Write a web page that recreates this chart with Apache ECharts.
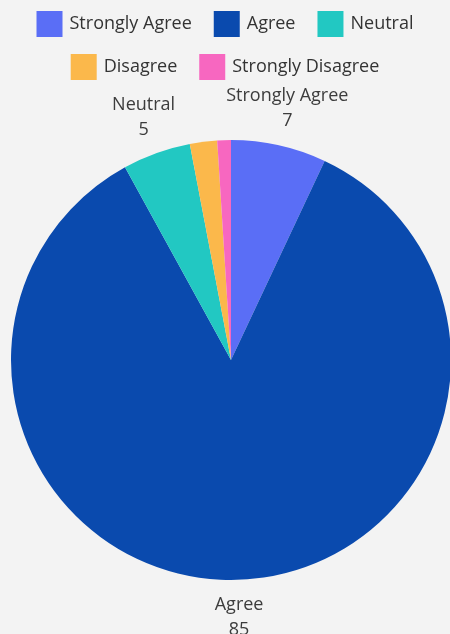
<!DOCTYPE html>
<html>
<head>
<meta charset="utf-8">
<script src="https://cdn.jsdelivr.net/npm/echarts@6/dist/echarts.min.js"></script>
<style>
html,body{margin:0;padding:0;background:#f3f3f3;}
#chart{width:450px;height:634px;}
</style>
</head>
<body>
<div id="chart"></div>
<script>
const categories = ['Strongly Agree', 'Agree', 'Neutral', 'Disagree', 'Strongly Disagree'];
const values = [7, 85, 5, 2, 1];
const colors = ['#5a6ef6', '#0a4aae', '#22c8c2', '#fbb84b', '#f767c0'];
const showLabel = [true, true, true, false, false];
const legendRow1 = ['Strongly Agree', 'Agree', 'Neutral'];
const legendRow2 = ['Disagree', 'Strongly Disagree'];

const chart = echarts.init(document.getElementById('chart'));
const font = '"Open Sans", sans-serif';
const legendBase = {
  orient: 'horizontal',
  left: 'center',
  itemWidth: 26,
  itemHeight: 26,
  itemGap: 22,
  icon: 'rect',
  textStyle: { fontSize: 18, color: '#333', fontFamily: font, padding: [0, 0, 0, 2] }
};
chart.setOption({
  backgroundColor: '#f3f3f3',
  color: colors,
  legend: [
    Object.assign({}, legendBase, { top: 6, data: legendRow1 }),
    Object.assign({}, legendBase, { top: 49, data: legendRow2 })
  ],
  series: [
    {
      type: 'pie',
      center: [231, 360],
      radius: [0, 220],
      startAngle: 90,
      clockwise: true,
      avoidLabelOverlap: false,
      label: { show: false },
      labelLine: { show: false },
      emphasis: { scale: false },
      data: categories.map((c, i) => ({ name: c, value: values[i], itemStyle: { color: colors[i] } }))
    },
    {
      type: 'pie',
      center: [231, 360],
      radius: [220, 290],
      startAngle: 90,
      clockwise: true,
      silent: true,
      avoidLabelOverlap: false,
      itemStyle: { color: 'rgba(0,0,0,0)' },
      label: {
        position: 'inside',
        formatter: '{b}\n{c}',
        fontSize: 18,
        lineHeight: 25,
        color: '#3c3c3c',
        fontFamily: font
      },
      labelLine: { show: false },
      data: categories.map((c, i) => ({ name: c, value: values[i], label: { show: showLabel[i] } }))
    }
  ]
});
</script>
</body>
</html>
